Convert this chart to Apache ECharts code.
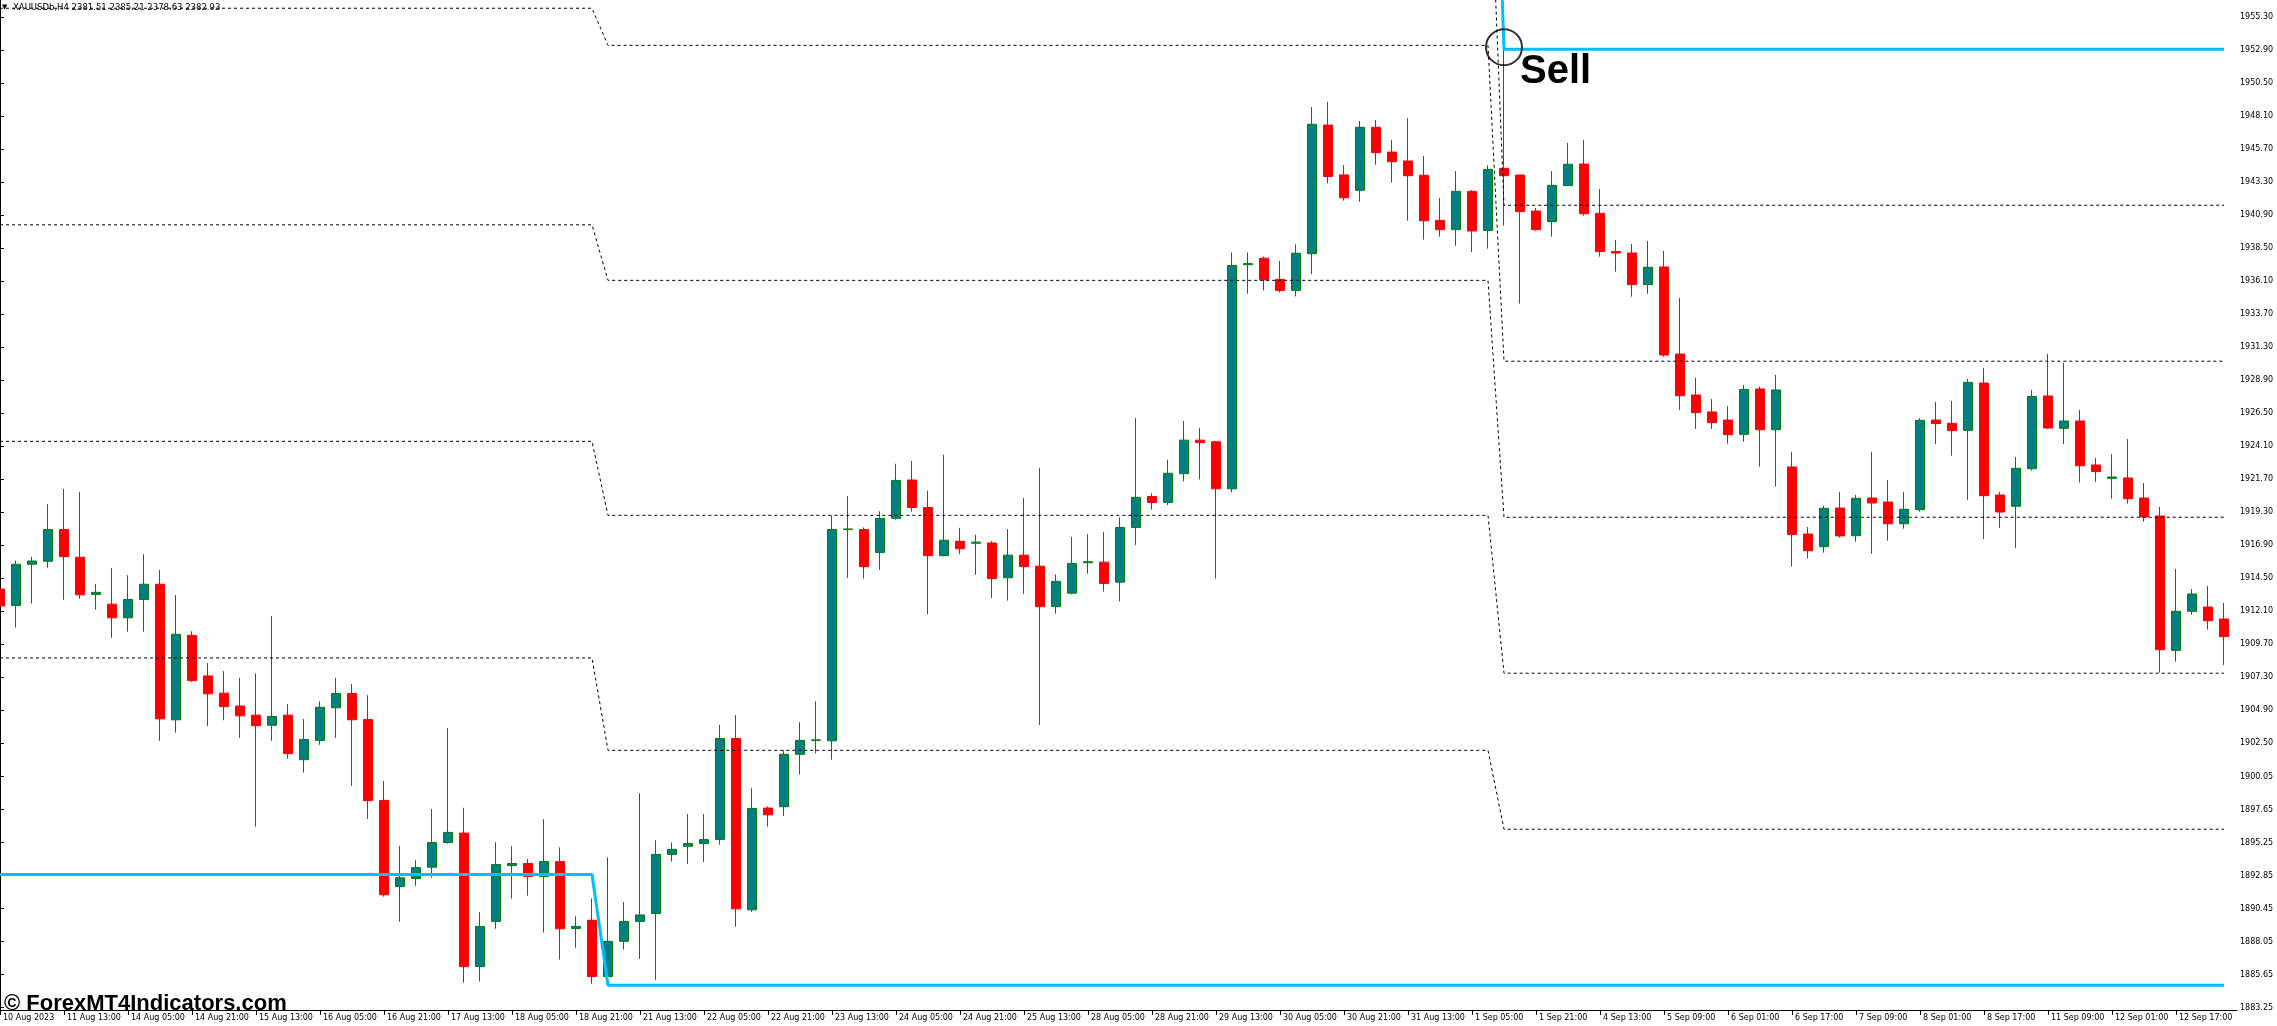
<!DOCTYPE html>
<html><head><meta charset="utf-8">
<script src="https://cdn.jsdelivr.net/npm/echarts@6/dist/echarts.min.js"></script>
<style>html,body{margin:0;padding:0;background:#fff;}#c{width:2277px;height:1026px;}</style>
</head><body><div id="c"></div>
<script>
// H4 candles, bar index 0..139
const opens = [1913.69,1912.49,1915.49,1915.71,1918.02,1916.00,1913.30,1912.59,1911.60,1912.93,
1914.04,1904.18,1910.32,1907.37,1906.12,1905.18,1904.52,1903.78,1904.52,1901.28,
1902.68,1905.06,1906.09,1904.20,1898.32,1892.05,1892.64,1893.46,1895.25,1895.94,
1886.23,1889.52,1893.58,1893.73,1892.79,1893.87,1889.01,1889.60,1885.51,1888.07,
1889.52,1890.09,1894.39,1894.98,1895.18,1895.47,1902.82,1890.36,1897.76,1897.86,
1901.67,1902.68,1902.65,1918.02,1918.02,1916.35,1918.83,1921.62,1919.62,1916.12,
1917.16,1917.02,1917.04,1914.51,1916.15,1915.35,1912.41,1913.39,1915.60,1915.64,
1914.19,1918.17,1920.42,1919.98,1922.08,1924.52,1924.40,1920.98,1937.28,1937.75,
1936.21,1935.41,1938.08,1947.43,1943.81,1942.69,1947.27,1945.47,1944.82,1943.78,
1940.50,1939.83,1942.61,1939.76,1944.29,1943.80,1941.18,1940.41,1943.03,1944.60,
1941.01,1938.23,1938.13,1935.83,1937.11,1930.78,1927.80,1926.57,1925.98,1924.94,
1928.24,1925.28,1922.57,1917.69,1916.77,1919.58,1917.57,1920.31,1920.02,1918.44,
1919.46,1925.98,1925.74,1925.23,1928.67,1920.53,1919.71,1922.44,1927.73,1925.38,
1925.91,1922.71,1921.74,1921.77,1920.31,1919.00,1909.23,1912.07,1912.38,1911.51];
const closes = [1912.46,1915.49,1915.73,1918.02,1916.05,1913.27,1913.45,1911.60,1912.93,1914.04,
1904.25,1910.40,1907.03,1906.07,1905.14,1904.47,1903.76,1904.42,1901.72,1902.75,
1905.09,1906.09,1904.18,1898.30,1891.46,1892.69,1893.43,1895.25,1895.99,1886.23,
1889.15,1893.65,1893.73,1892.79,1893.87,1888.98,1889.15,1885.51,1888.07,1889.52,
1889.99,1894.39,1894.76,1895.18,1895.47,1902.82,1890.43,1897.73,1897.27,1901.67,
1902.68,1902.72,1918.02,1918.06,1915.32,1918.83,1921.59,1919.62,1916.12,1917.24,
1916.62,1917.10,1914.45,1916.15,1915.32,1912.41,1914.25,1915.55,1915.68,1914.10,
1918.17,1920.36,1919.98,1922.11,1924.52,1924.34,1920.98,1937.22,1937.36,1936.18,
1935.41,1938.11,1947.49,1943.69,1942.15,1947.27,1945.43,1944.77,1943.75,1940.48,
1939.83,1942.61,1939.73,1944.21,1943.75,1941.14,1939.83,1943.05,1944.58,1940.99,
1938.23,1938.13,1935.83,1937.09,1930.71,1927.75,1926.52,1925.79,1924.92,1928.21,
1925.28,1928.17,1917.65,1916.48,1919.56,1917.55,1920.29,1919.95,1918.44,1919.49,
1925.96,1925.72,1925.21,1928.72,1920.48,1919.29,1922.47,1927.70,1925.40,1925.91,
1922.66,1922.23,1921.84,1920.26,1918.93,1909.28,1912.07,1913.33,1911.39,1910.23];
const lows = [1911.90,1910.89,1912.64,1915.24,1912.91,1912.98,1912.19,1910.15,1910.59,1910.59,
1902.65,1903.24,1906.93,1903.73,1904.15,1902.87,1896.41,1902.65,1901.35,1900.34,
1902.36,1902.87,1899.38,1896.97,1891.32,1889.50,1892.10,1892.69,1895.18,1885.05,
1885.15,1888.98,1891.17,1891.39,1888.71,1886.74,1887.60,1884.97,1885.47,1887.48,
1886.79,1885.27,1893.87,1893.70,1893.83,1895.10,1889.13,1890.21,1896.41,1897.19,
1900.19,1901.74,1901.28,1914.50,1914.45,1915.09,1918.73,1919.32,1911.84,1916.06,
1916.24,1914.72,1913.03,1912.85,1913.33,1903.80,1911.90,1913.30,1914.81,1913.50,
1912.79,1916.89,1919.47,1919.80,1921.52,1921.67,1914.45,1920.72,1935.17,1935.41,
1935.26,1934.97,1936.60,1943.19,1941.94,1941.86,1944.55,1943.25,1940.48,1939.10,
1939.32,1938.66,1938.20,1938.45,1940.12,1934.45,1939.75,1939.32,1943.00,1940.85,
1937.86,1936.77,1934.95,1935.17,1930.59,1926.71,1925.33,1925.33,1924.26,1924.41,
1922.59,1921.14,1915.32,1915.90,1916.34,1917.43,1917.14,1916.26,1917.21,1918.08,
1919.32,1924.24,1923.39,1920.17,1917.33,1918.13,1916.67,1922.30,1925.35,1924.24,
1921.43,1921.47,1920.26,1919.90,1918.59,1907.61,1908.41,1911.83,1910.74,1908.17];
const highs = [1914.30,1915.76,1916.03,1919.86,1920.97,1920.75,1914.06,1915.22,1914.70,1916.22,
1915.07,1913.25,1910.62,1908.31,1907.72,1907.23,1907.57,1911.73,1905.33,1904.23,
1905.53,1907.23,1906.78,1905.97,1899.73,1895.00,1893.97,1897.69,1903.59,1897.78,
1890.19,1895.28,1895.00,1894.05,1896.95,1894.91,1889.89,1891.19,1894.19,1890.92,
1898.84,1895.42,1895.25,1897.32,1897.32,1903.81,1904.52,1899.21,1897.88,1901.96,
1904.00,1905.53,1919.03,1920.45,1918.17,1919.35,1922.80,1923.00,1920.84,1923.45,
1918.14,1917.63,1917.19,1918.05,1920.30,1922.50,1914.75,1917.48,1917.69,1917.84,
1918.91,1926.12,1920.66,1923.09,1925.91,1925.41,1924.46,1938.17,1938.17,1937.87,
1937.55,1938.76,1948.74,1949.12,1944.52,1947.73,1947.80,1946.35,1947.95,1945.18,
1942.13,1944.09,1942.71,1944.51,1953.10,1943.80,1941.40,1944.09,1946.13,1946.35,
1942.78,1939.08,1938.78,1939.00,1938.28,1934.86,1929.06,1927.51,1927.00,1928.53,
1928.41,1929.26,1923.66,1918.20,1919.75,1920.75,1920.53,1923.66,1921.62,1920.75,
1926.11,1927.29,1927.37,1928.97,1929.77,1920.75,1923.29,1928.17,1930.78,1930.15,
1926.71,1923.22,1923.51,1924.60,1921.40,1919.66,1915.15,1913.69,1913.91,1912.68];

// time axis labels (every 4th bar)
const labelBars = [0,4,8,12,16,20,24,28,32,36,40,44,48,52,56,60,64,68,72,76,80,84,88,92,96,100,104,108,112,116,120,124,128,132,136];
const xLabels = ["10 Aug 2023","11 Aug 13:00","14 Aug 05:00","14 Aug 21:00","15 Aug 13:00","16 Aug 05:00","16 Aug 21:00","17 Aug 13:00","18 Aug 05:00","18 Aug 21:00","21 Aug 13:00","22 Aug 05:00","22 Aug 21:00","23 Aug 13:00","24 Aug 05:00","24 Aug 21:00","25 Aug 13:00","28 Aug 05:00","28 Aug 21:00","29 Aug 13:00","30 Aug 05:00","30 Aug 21:00","31 Aug 13:00","1 Sep 05:00","1 Sep 21:00","4 Sep 13:00","5 Sep 09:00","6 Sep 01:00","6 Sep 17:00","7 Sep 09:00","8 Sep 01:00","8 Sep 17:00","11 Sep 09:00","12 Sep 01:00","12 Sep 17:00"];

// price axis tick labels
const yTicks = [1955.30,1952.90,1950.50,1948.10,1945.70,1943.30,1940.90,1938.50,1936.10,1933.70,1931.30,1928.90,1926.50,1924.10,1921.70,1919.30,1916.90,1914.50,1912.10,1909.70,1907.30,1904.90,1902.50,1900.05,1897.65,1895.25,1892.85,1890.45,1888.05,1885.65,1883.25];

// indicator levels per period (index 0 and 6 drawn as the blue lines)
const periodStart = [0, 38, 94];
const periodEnd = [37, 93, 139];
const levelsP1 = [1892.93,1908.68,1924.43,1940.18,1955.93,1971.68,1987.43];
const levelsP2 = [1884.87,1901.96,1919.05,1936.14,1953.23,1970.32,1987.41];
const levelsP3 = [1884.88,1896.22,1907.57,1918.91,1930.26,1941.60,1952.95];

const signalBar = [94];
const signalPrice = [1953.10];
const signalText = "Sell";

const header = "XAUUSDb,H4 2381.51 2385.21 2378.63 2382.93";
const watermark = "\u00A9 ForexMT4Indicators.com";

const periods = [levelsP1, levelsP2, levelsP3];
function levelLine(j) {
  const pts = [];
  periods.forEach((lv, k) => { pts.push([periodStart[k], lv[j]]); pts.push([periodEnd[k], lv[j]]); });
  return pts;
}
const candleData = opens.map((o, i) => [i, o, closes[i], lows[i], highs[i]]);

const series = [{
  type: 'candlestick',
  data: candleData,
  encode: {x: 0, y: [1, 2, 3, 4]},
  barWidth: 10,
  z: 2,
  itemStyle: {color: '#008080', color0: '#FF0000', borderColor: '#008000', borderColor0: '#FF0000', borderWidth: 1}
}];
for (let j = 1; j <= 5; j++) {
  series.push({type: 'line', data: levelLine(j), symbol: 'none', z: 3, silent: true,
    lineStyle: {color: '#000', width: 1, type: [3, 3]}});
}
[0, 6].forEach(j => series.push({type: 'line', data: levelLine(j), symbol: 'none', z: 4, silent: true,
  lineStyle: {color: '#00BFFF', width: 3}}));
series.push({type: 'scatter', data: signalBar.map((b, k) => [b, signalPrice[k]]), symbol: 'circle', symbolSize: 36, z: 5,
  itemStyle: {color: 'rgba(0,0,0,0)', borderColor: '#000', borderWidth: 2}});

const chart = echarts.init(document.getElementById('c'), null, {renderer: 'canvas'});
chart.setOption({
  animation: false,
  backgroundColor: '#fff',
  grid: {left: 0, top: 0, width: 2237, height: 1010, containLabel: false, outerBoundsMode: 'none'},
  xAxis: {
    type: 'value', min: 0, max: 139.8125,
    axisLine: {onZero: false, lineStyle: {color: '#000', width: 1}},
    axisTick: {customValues: labelBars, length: 5, lineStyle: {color: '#000'}},
    splitLine: {show: false},
    axisLabel: {customValues: labelBars, formatter: v => xLabels[labelBars.indexOf(Math.round(v))] || '',
      align: 'left', margin: 4, padding: [0, 0, 0, 3], fontSize: 8, fontFamily: 'DejaVu Sans', color: '#000', hideOverlap: false}
  },
  yAxis: {
    type: 'value', position: 'right', min: 1883.075, max: 1956.529,
    axisLine: {show: true, lineStyle: {color: '#000', width: 1}},
    axisTick: {show: true, customValues: yTicks, length: 4, lineStyle: {color: '#000'}},
    splitLine: {show: false},
    axisLabel: {customValues: yTicks, formatter: v => v.toFixed(2), margin: 3, fontSize: 8, fontFamily: 'DejaVu Sans', color: '#000', hideOverlap: false}
  },
  series: series,
  graphic: [
    {type: 'text', left: 2, top: 4, z: 10, style: {text: '\u25BC', fontSize: 7, fill: '#000', fontFamily: 'DejaVu Sans'}},
    {type: 'text', left: 13, top: 3, z: 10, style: {text: header, fontSize: 8.5, fill: '#000', fontFamily: 'DejaVu Sans'}},
    {type: 'text', x: 1520, y: 52, z: 10, style: {text: signalText, fontSize: 40, fontWeight: 'bold', fill: '#000', fontFamily: 'Liberation Sans', verticalAlign: 'top'}},
    {type: 'text', x: 4, y: 993, z: 10, style: {text: watermark, fontSize: 22, fontWeight: 'bold', fill: '#000', fontFamily: 'Liberation Sans', verticalAlign: 'top'}}
  ]
});
</script>
</body></html>
